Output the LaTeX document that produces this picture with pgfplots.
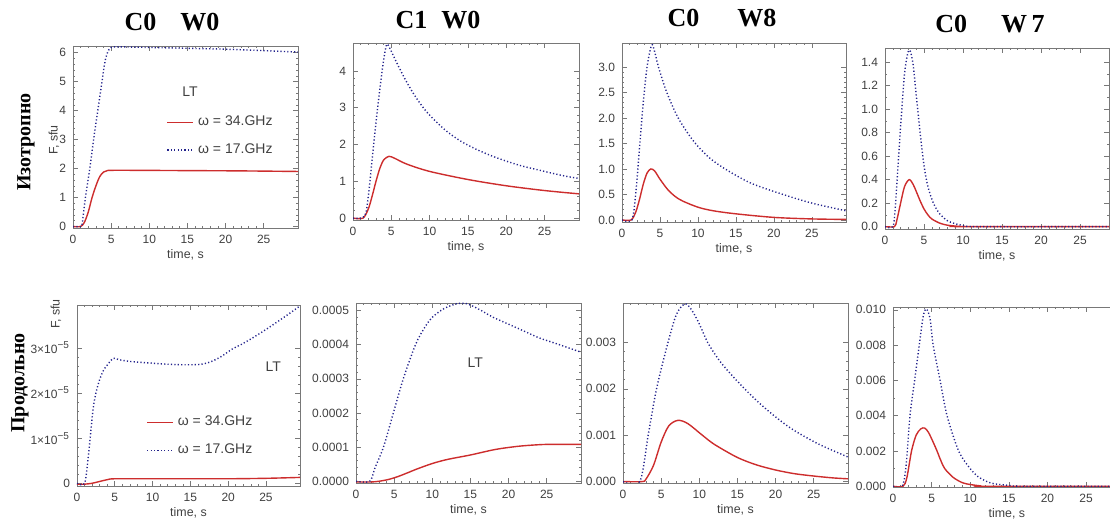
\documentclass[border=0pt]{standalone}
\usepackage{pgfplots}
\pgfplotsset{compat=1.18}
\usepackage{fontspec}
\setmainfont{Liberation Sans}
\newfontfamily\tms{Liberation Serif}
\definecolor{cRed}{RGB}{205,45,45}
\definecolor{cBlue}{RGB}{35,35,140}
\definecolor{frame}{RGB}{120,120,120}
\pgfplotsset{
  idl/.style={
    scale only axis, anchor=south west,
    axis line style={frame,line width=0.4pt},
    tick style={frame,line width=0.3pt},
    major tick length=2.4pt, minor tick length=1.2pt,
    tick label style={font=\fontsize{6}{7}\selectfont,text=black!75},
    /pgf/number format/assume math mode=true,
    xmin=0, xmax=29.5, xtick={0,5,...,25}, minor x tick num=4,
    scaled y ticks=false,
    xlabel={time, s},
    xlabel style={font=\fontsize{6.2}{7}\selectfont,text=black!75,yshift=4pt},
    legend style={draw=none,fill=none,font=\fontsize{7}{8}\selectfont,text=black!75,
      row sep=3.5pt,inner sep=0pt,
      legend cell align=left},
    legend image code/.code={\draw[##1] (0pt,0pt) -- (13pt,0pt);},
  },
  r34/.style={color=cRed,line width=0.7pt,smooth,tension=0.5},
  b17/.style={color=cBlue,line width=0.7pt,dash pattern=on 0.6pt off 1.1pt,smooth,tension=0.5},
}
\begin{document}
\begin{tikzpicture}
\useasboundingbox (0,0) rectangle (555pt,261pt);

% titles, row labels, y labels
\node[font=\tms\bfseries\fontsize{13}{14}\selectfont] at (86pt,250pt) {C0\hspace{12pt}W0};
\node[font=\tms\bfseries\fontsize{13}{14}\selectfont] at (219pt,251pt) {C1\hspace{7pt}W0};
\node[font=\tms\bfseries\fontsize{13}{14}\selectfont] at (361pt,252pt) {C0\hspace{19pt}W8};
\node[font=\tms\bfseries\fontsize{13}{14}\selectfont] at (495pt,249pt) {C0\hspace{17pt}W\,7};
\node[font=\tms\bfseries\fontsize{10}{11}\selectfont,rotate=90] at (13pt,190pt) {Изотропно};
\node[font=\tms\bfseries\fontsize{10}{11}\selectfont,rotate=90] at (10pt,69.5pt) {Продольно};
\node[font=\fontsize{6.2}{7}\selectfont,text=black!75,rotate=90] at (27pt,191pt) {F, sfu};
\node[font=\fontsize{6.2}{7}\selectfont,text=black!75,rotate=90] at (28pt,104pt) {F, sfu};

% ---- top row ----
\begin{axis}[idl, at={(36.5pt,147pt)}, width=112.5pt, height=91pt,
  ymin=-0.05, ymax=6.23, ytick={0,...,6}, minor y tick num=4,
  legend style={at={(rel axis cs:0.415,0.64)},anchor=north west}]
\addplot[r34] coordinates {(0,0) (1,0) (1.5,0.15) (2,0.5) (2.5,1.0) (3,1.4) (3.5,1.72)
  (4,1.88) (4.5,1.93) (5,1.94) (8,1.94) (15,1.93) (22,1.92) (29.5,1.9)};
\addlegendentry{ω = 34.GHz}
\addplot[b17] coordinates {(0,0) (1,0) (1.2,0.1) (1.63,1.0) (2.2,2.0) (2.7,3.0) (3.25,4.0)
  (3.8,5.0) (4.2,5.7) (4.6,6.05) (5,6.18) (6,6.2) (10,6.18) (15,6.15) (20,6.12) (25,6.07) (29.5,6.02)};
\addlegendentry{ω = 17.GHz}
\node[font=\fontsize{7}{8}\selectfont,text=black!75] at (rel axis cs:0.52,0.75) {LT};
\end{axis}

\begin{axis}[idl, at={(176.5pt,151pt)}, width=113pt, height=88.5pt,
  ymin=-0.05, ymax=4.76, ytick={0,...,4}, minor y tick num=4]
\addplot[r34] coordinates {(0,0) (1.3,0) (2,0.25) (2.5,0.6) (3,1.0) (3.5,1.35) (4,1.58)
  (4.7,1.68) (5.5,1.62) (7,1.47) (10,1.27) (15,1.05) (20,0.88) (25,0.75) (29.5,0.66)};
\addplot[b17] coordinates {(0,0) (1.5,0.05) (2,0.6) (2.5,1.6) (3,2.6) (3.5,3.5) (4,4.3)
  (4.4,4.72) (4.8,4.62) (5.3,4.4) (6,4.1) (7,3.7) (8,3.35) (9,3.05) (10,2.8) (12,2.4) (14,2.1) (16,1.88)
  (18,1.7) (20,1.55) (22,1.42) (24,1.32) (26,1.22) (28,1.13) (29.5,1.08)};
\end{axis}

\begin{axis}[idl, at={(311pt,150pt)}, width=112pt, height=89.5pt,
  ymin=-0.04, ymax=3.47, ytick={0,0.5,...,3}, minor y tick num=4,
  yticklabels={0.0,0.5,1.0,1.5,2.0,2.5,3.0}]
\addplot[r34] coordinates {(0,0) (1.2,0) (1.8,0.15) (2.3,0.4) (2.8,0.7) (3.3,0.92) (3.8,1.0)
  (4.3,0.96) (5,0.8) (6,0.6) (7,0.46) (8,0.37) (10,0.25) (12,0.18) (15,0.12) (20,0.05)
  (25,0.02) (29.5,0.01)};
\addplot[b17] coordinates {(0,0) (1.3,0) (1.8,0.5) (2.3,1.4) (2.8,2.3) (3.3,3.0) (3.9,3.43)
  (4.3,3.3) (4.8,3.0) (5.9,2.5) (7.4,2.0) (9.4,1.55) (11.5,1.22) (13.8,0.98) (17,0.72) (21.2,0.5) (25,0.33) (29.5,0.18)};
\end{axis}

\begin{axis}[idl, at={(442.5pt,146.5pt)}, width=112pt, height=90.5pt, xmax=28.7,
  ymin=-0.02, ymax=1.52, ytick={0,0.2,...,1.4}, minor y tick num=1,
  yticklabels={0.0,0.2,0.4,0.6,0.8,1.0,1.2,1.4}]
\addplot[r34] coordinates {(0,0) (1.2,0) (1.5,0.05) (2,0.2) (2.5,0.34) (3.1,0.4) (3.6,0.36)
  (4,0.3) (4.5,0.22) (5,0.15) (5.5,0.1) (6,0.065) (7,0.03) (8,0.012) (9,0.005) (10,0) (28.7,0)};
\addplot[b17] coordinates {(0,0) (1,0) (1.3,0.15) (1.7,0.55) (2.1,0.95) (2.5,1.3) (2.9,1.47)
  (3.2,1.5) (3.6,1.38) (4,1.12) (4.5,0.8) (5,0.52) (5.5,0.34) (6.2,0.2) (7,0.11) (8,0.05)
  (9,0.025) (10,0.01) (12,0) (28.7,0)};
\end{axis}

% ---- bottom row ----
\begin{axis}[idl, at={(38.5pt,18pt)}, width=111.5pt, height=90.5pt,
  ymin=-0.06, ymax=3.95, ytick={0,1,2,3}, minor y tick num=4,
  yticklabels={0,1×10\textsuperscript{−5},2×10\textsuperscript{−5},3×10\textsuperscript{−5}},
  legend style={at={(rel axis cs:0.31,0.41)},anchor=north west}]
\addplot[r34] coordinates {(0,-0.02) (1,-0.02) (2,0) (3,0.04) (4,0.08) (5,0.1) (10,0.1)
  (15,0.1) (20,0.1) (25,0.11) (29.5,0.13)};
\addlegendentry{ω = 34.GHz}
\addplot[b17] coordinates {(0,0) (1,0) (1.5,0.6) (2.1,1.6) (2.5,2.0) (3,2.3) (3.5,2.5) (4,2.62)
  (4.8,2.77) (5.5,2.74) (7,2.7) (10,2.66) (13,2.63) (16,2.63) (17.5,2.68) (19,2.8) (20.5,2.97)
  (22,3.1) (24,3.3) (26,3.52) (28,3.75) (29.5,3.93)};
\addlegendentry{ω = 17.GHz}
\node[font=\fontsize{7}{8}\selectfont,text=black!75] at (rel axis cs:0.88,0.66) {LT};
\end{axis}

\begin{axis}[idl, at={(178pt,19.5pt)}, width=112.5pt, height=90pt,
  ymin=-0.05, ymax=5.22, ytick={0,...,5}, minor y tick num=4,
  yticklabels={0.0000,0.0001,0.0002,0.0003,0.0004,0.0005}]
\addplot[r34] coordinates {(0,-0.02) (2,-0.02) (3,0) (4,0.04) (5,0.1) (6,0.18) (7,0.27)
  (8,0.36) (10,0.52) (12,0.64) (15,0.77) (18,0.92) (20,0.99) (22,1.04) (25,1.08) (29.5,1.08)};
\addplot[b17] coordinates {(0,0) (1.8,0) (2.5,0.4) (3.6,1.0) (4.9,2.0) (6.2,3.0) (7.8,4.0)
  (9,4.5) (10,4.8) (11.5,5.05) (13.2,5.2) (14.5,5.2) (16,5.05) (18,4.8) (20,4.6) (22,4.4)
  (24,4.2) (26,4.05) (28.2,3.88) (29.5,3.78)};
\node[font=\fontsize{7}{8}\selectfont,text=black!75] at (rel axis cs:0.53,0.67) {LT};
\end{axis}

\begin{axis}[idl, at={(311.5pt,19.5pt)}, width=112.5pt, height=90pt,
  ymin=-0.03, ymax=3.85, ytick={0,1,2,3}, minor y tick num=4,
  yticklabels={0.000,0.001,0.002,0.003}]
\addplot[r34] coordinates {(0,0) (2.5,0) (3,0.05) (4,0.35) (5,0.85) (6,1.2) (7.2,1.32)
  (8.5,1.25) (10.4,1.0) (12,0.8) (15,0.52) (17.5,0.36) (20,0.25) (22.5,0.17) (25,0.12)
  (27.5,0.08) (29.5,0.06)};
\addplot[b17] coordinates {(0,0) (2.2,0) (3.3,1.0) (4.4,2.0) (5.9,3.0) (7,3.6) (8.1,3.83)
  (9,3.7) (10,3.4) (11.1,3.0) (12.5,2.64) (14,2.34) (16,1.99) (17.5,1.75) (19,1.53)
  (20.5,1.33) (22,1.15) (23.5,1.0) (26,0.78) (29.5,0.53)};
\end{axis}

\begin{axis}[idl, at={(446.5pt,17.5pt)}, width=113.9pt, height=90pt,
  ymin=-0.04, ymax=10.16, ytick={0,2,...,10}, minor y tick num=1,
  yticklabels={0.000,0.002,0.004,0.006,0.008,0.010}]
\addplot[r34] coordinates {(0,0) (1.3,0) (1.8,0.5) (2.4,2.0) (3,2.9) (3.6,3.25) (4.1,3.3)
  (4.6,3.05) (5.2,2.5) (5.7,2.0) (6.2,1.45) (6.7,1.0) (7.8,0.5) (9,0.2) (10,0.1) (11,0.04)
  (12,0) (29.5,0)};
\addplot[b17] coordinates {(0,0) (1.2,0) (1.7,1.2) (2.2,4.0) (2.8,6.0) (3.4,8.0) (3.9,9.6)
  (4.3,10.05) (4.8,9.5) (5.2,8.0) (6.1,6.0) (7.0,4.0) (8.5,2.0) (10,1.0) (11,0.55) (12,0.3)
  (13,0.15) (15,0.05) (17,0) (29.5,0)};
\end{axis}
\end{tikzpicture}
\end{document}
